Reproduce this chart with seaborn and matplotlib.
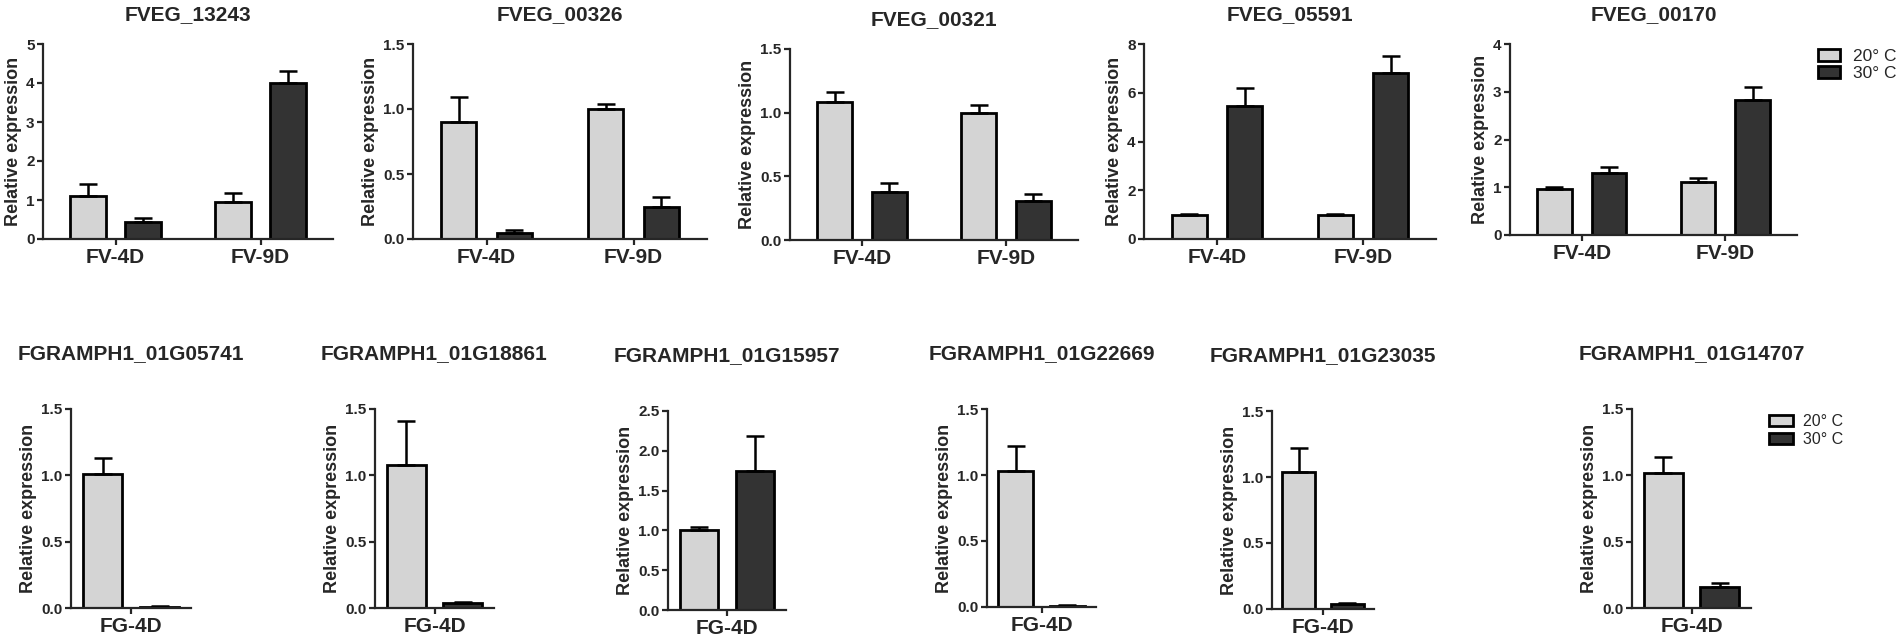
#IMPORTS
import pandas as pd
import numpy as np
import matplotlib
matplotlib.use("Agg")
import matplotlib.pyplot as plt
import seaborn as sns
from matplotlib.patches import Patch

#DATA
temps = ["20° C", "30° C"]
colors = ["#d4d4d4", "#333333"]

fv_genes = ["FVEG_13243", "FVEG_00326", "FVEG_00321", "FVEG_05591", "FVEG_00170"]
fv_stages = ["FV-4D", "FV-9D"]
# one [FV-4D, FV-9D] pair per gene
fv_mean_20 = [[1.10, 0.95], [0.90, 1.00], [1.08, 1.00], [1.00, 1.00], [0.96, 1.10]]
fv_err_20 = [[0.30, 0.23], [0.19, 0.04], [0.08, 0.06], [0.03, 0.03], [0.05, 0.10]]
fv_mean_30 = [[0.44, 4.00], [0.05, 0.25], [0.38, 0.31], [5.45, 6.80], [1.30, 2.82]]
fv_err_30 = [[0.11, 0.31], [0.02, 0.07], [0.07, 0.05], [0.75, 0.70], [0.12, 0.28]]
fv_yticks = [[0, 1, 2, 3, 4, 5], [0, 0.5, 1.0, 1.5], [0, 0.5, 1.0, 1.5],
             [0, 2, 4, 6, 8], [0, 1, 2, 3, 4]]

fg_genes = ["FGRAMPH1_01G05741", "FGRAMPH1_01G18861", "FGRAMPH1_01G15957",
            "FGRAMPH1_01G22669", "FGRAMPH1_01G23035", "FGRAMPH1_01G14707"]
fg_stages = ["FG-4D"]
fg_mean_20 = [1.01, 1.08, 1.00, 1.03, 1.04, 1.02]
fg_err_20 = [0.12, 0.33, 0.04, 0.19, 0.18, 0.12]
fg_mean_30 = [0.01, 0.04, 1.75, 0.01, 0.04, 0.16]
fg_err_30 = [0.003, 0.006, 0.43, 0.003, 0.006, 0.03]
fg_yticks = [[0, 0.5, 1.0, 1.5], [0, 0.5, 1.0, 1.5], [0, 0.5, 1.0, 1.5, 2.0, 2.5],
             [0, 0.5, 1.0, 1.5], [0, 0.5, 1.0, 1.5], [0, 0.5, 1.0, 1.5]]

#LAYOUT (pixel boxes: left, top, right, bottom)
W, H = 1902, 642
top_boxes = [(43, 44, 333, 239), (413, 44, 707, 239), (790, 49, 1078, 240),
             (1144, 44, 1436, 239), (1510, 44, 1797, 235)]
bottom_boxes = [(71, 409, 191, 608), (375, 409, 494, 608), (668, 411, 786, 610),
                (987, 409, 1096, 607), (1272, 411, 1374, 609), (1632, 409, 1751, 608)]

sns.set_style("ticks")
plt.rcParams["font.family"] = ["Liberation Sans", "DejaVu Sans"]
plt.rcParams["axes.linewidth"] = 1.6

fig = plt.figure(figsize=(W / 100, H / 100), dpi=100)


def draw_panel(box, gene, stages, m20, e20, m30, e30, yticks, width, gap, title_pad):
    l, t, r, b = box
    ax = fig.add_axes([l / W, 1 - b / H, (r - l) / W, (b - t) / H])
    df = pd.DataFrame({
        "stage": list(stages) * 2,
        "temp": [temps[0]] * len(stages) + [temps[1]] * len(stages),
        "value": list(m20) + list(m30),
    })
    sns.barplot(data=df, x="stage", y="value", hue="temp", order=stages,
                hue_order=temps, palette=colors, saturation=1,
                edgecolor="black", linewidth=2, width=width, gap=gap,
                errorbar=None, legend=False, ax=ax)
    #Error bars (upper only) at the bar centres
    for cont, errs in zip(ax.containers, [e20, e30]):
        xs = [p.get_x() + p.get_width() / 2 for p in cont]
        ys = [p.get_height() for p in cont]
        ax.errorbar(xs, ys, yerr=[np.zeros(len(errs)), errs], fmt="none",
                    ecolor="black", elinewidth=1.8, capsize=6.5, capthick=1.8, zorder=1)
    ax.set_xlim(-0.5, len(stages) - 0.5)
    ax.set_ylim(0, yticks[-1])
    ax.set_yticks(yticks)
    if all(float(v).is_integer() for v in yticks):
        ax.set_yticklabels([f"{int(v)}" for v in yticks])
    else:
        ax.set_yticklabels([f"{v:.1f}" for v in yticks])
    ax.set_xlabel("")
    ax.set_ylabel("Relative expression", fontsize=13, fontweight="bold", labelpad=3)
    ax.set_title(gene, fontsize=15, fontweight="bold", pad=title_pad)
    ax.tick_params(axis="y", labelsize=11, length=4.5, width=1.6, pad=1.5)
    ax.tick_params(axis="x", labelsize=15, length=4.5, width=1.6, pad=2)
    for lab in ax.get_xticklabels() + ax.get_yticklabels():
        lab.set_fontweight("bold")
    sns.despine(ax=ax)
    return ax


for i, gene in enumerate(fv_genes):
    draw_panel(top_boxes[i], gene, fv_stages, fv_mean_20[i], fv_err_20[i],
               fv_mean_30[i], fv_err_30[i], fv_yticks[i], 0.76, 0.36, 17)

for i, gene in enumerate(fg_genes):
    draw_panel(bottom_boxes[i], gene, fg_stages, [fg_mean_20[i]], [fg_err_20[i]],
               [fg_mean_30[i]], [fg_err_30[i]], fg_yticks[i], 0.95, 0.31, 36)

#Legends
handles = [Patch(facecolor=c, edgecolor="black", linewidth=2, label=t) for c, t in zip(colors, temps)]
legend_opts = [
    # anchor px, font size, handle length, handle height, text pad, label spacing
    ((1818, 48.5), 12.5, 1.25, 0.75, 0.75, 0.1),
    ((1769, 414), 11.5, 1.5, 0.75, 0.62, 0.2),
]
for (lx, ly), fs, hl, hh, tp, ls in legend_opts:
    fig.legend(handles=handles, loc="upper left", bbox_to_anchor=(lx / W, 1 - ly / H),
               bbox_transform=fig.transFigure, frameon=False, borderpad=0,
               borderaxespad=0, handlelength=hl, handleheight=hh,
               handletextpad=tp, labelspacing=ls, fontsize=fs)

fig.savefig("out.png", dpi=100)
